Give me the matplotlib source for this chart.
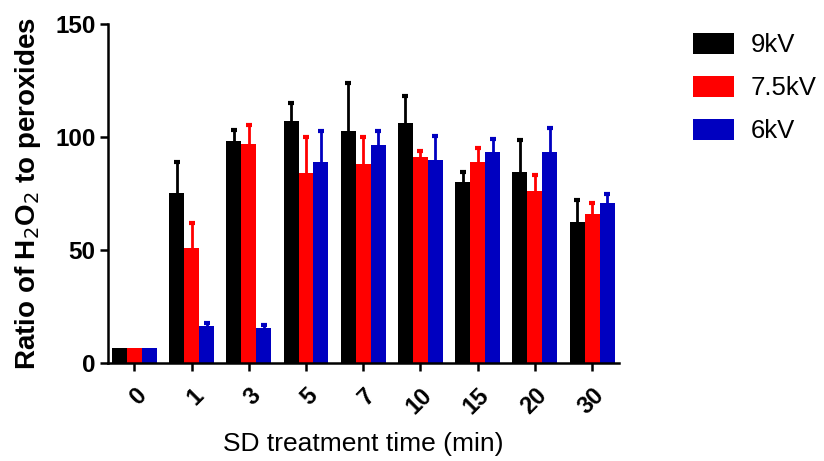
import numpy as np
import matplotlib
matplotlib.use('Agg')
import matplotlib.pyplot as plt

plt.rcParams['font.family'] = ['Liberation Sans', 'DejaVu Sans']

# 数据
times = ['0', '1', '3', '5', '7', '10', '15', '20', '30']
series = ['9kV', '7.5kV', '6kV']
colors = ['#000000', '#FF0000', '#0000C0']
mean_9 = [6.6, 75.3, 98.0, 107.0, 102.6, 106.0, 79.9, 84.3, 62.3]
err_9 = [0, 13.4, 4.9, 7.9, 21.4, 12.1, 4.7, 14.3, 9.6]
mean_75 = [6.6, 50.9, 97.0, 83.9, 87.9, 91.2, 89.0, 75.9, 65.7]
err_75 = [0, 11.1, 8.1, 15.9, 11.9, 2.7, 5.9, 7.4, 5.2]
mean_6 = [6.6, 16.4, 15.2, 89.0, 96.3, 89.6, 93.4, 93.4, 70.9]
err_6 = [0, 1.0, 1.5, 13.8, 6.3, 10.8, 5.7, 10.4, 3.8]

means = [mean_9, mean_75, mean_6]
errs = [err_9, err_75, err_6]

fig = plt.figure(figsize=(8.24, 4.61), dpi=100)
ax = fig.add_axes([0.1311, 0.2132, 0.6201, 0.7348])

x = np.arange(len(times))
w = 0.262
for i in range(3):
    pos = x + (i - 1) * w
    m = np.array(means[i])
    e = np.array(errs[i])
    ax.bar(pos, m, width=w, color=colors[i], label=series[i], linewidth=0, zorder=2)
    #只画向上的误差线
    k = e > 0
    ax.vlines(pos[k], m[k], m[k] + e[k], color=colors[i], linewidth=2, zorder=1)
    ax.plot(pos[k], m[k] + e[k], linestyle='none', marker='_', markersize=4.5,
            markeredgewidth=3, color=colors[i], zorder=1)

ax.set_xlim(-0.46, 8.47)
ax.set_ylim(0, 150)
ax.set_yticks([0, 50, 100, 150])
ax.set_xticks(x)
ax.set_xticklabels(times, rotation=45, ha='right', rotation_mode='anchor',
                   fontsize=17, fontweight='bold')
for t in ax.get_yticklabels():
    t.set_fontsize(17.5)
    t.set_fontweight('bold')

#边框
ax.spines['top'].set_visible(False)
ax.spines['right'].set_visible(False)
ax.spines['left'].set_linewidth(1.8)
ax.spines['bottom'].set_linewidth(1.8)
ax.tick_params(width=1.8, length=6)
ax.tick_params(axis='y', pad=3)
ax.tick_params(axis='x', pad=9)

ax.set_ylabel('Ratio of H$_2$O$_2$ to peroxides', fontsize=20, fontweight='bold', labelpad=9)
ax.set_xlabel('SD treatment time (min)', fontsize=19, labelpad=10)

fig.legend(loc='upper left', bbox_to_anchor=(693 / 824, 1 - 33 / 461), frameon=False,
           fontsize=18.5, handlelength=1.6, handleheight=0.88, labelspacing=0.72,
           handletextpad=0.65, borderpad=0, borderaxespad=0)

plt.savefig('out.png', dpi=100)
plt.close('all')
